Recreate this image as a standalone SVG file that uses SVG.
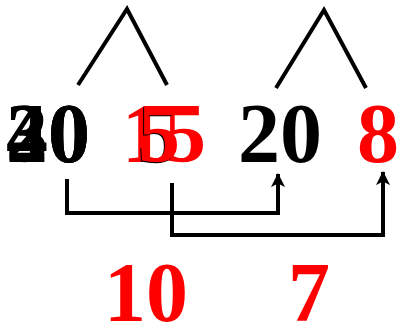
<svg xmlns="http://www.w3.org/2000/svg" width="399" height="325" viewBox="0 0 399 325">
<style>
.t{font-family:"Liberation Serif","Times New Roman",serif;font-weight:bold;font-size:84px}
.k{fill:#000}
.r{fill:#ff0000}
.ln{fill:none;stroke:#000;stroke-width:4}
</style>
<defs>
<marker id="ah" markerWidth="15" markerHeight="16" viewBox="0 0 16 16" refX="14" refY="8" orient="auto" markerUnits="userSpaceOnUse">
<path d="M0,0.5 L15,8 L0,15.5 L4,8 Z" fill="#000"/>
</marker>
</defs>
<g id="tree1"><polyline class="ln" points="78,85 127,9 167,85"/></g>
<g id="tree2"><polyline class="ln" points="276,88 324,10 366,88"/></g>
<g id="n40">
<text class="t k" x="6" y="162">20</text>
<text class="t k" x="6" y="162">30</text>
<text class="t k" x="6" y="162">40</text>
</g>
<g id="n15">
<text class="t r" x="122" y="162">15</text>
<text class="t k" x="137" y="163">5</text>
<text class="t r" x="138" y="162">5</text>
</g>
<g id="n20"><text class="t k" x="238" y="162">20</text></g>
<g id="n8"><text class="t r" x="357" y="162">8</text></g>
<g id="connectors">
<polyline class="ln" points="67,179 67,213 278,213 278,174" marker-end="url(#ah)"/>
<polyline class="ln" points="172,183 172,235 383,235 383,172" marker-end="url(#ah)"/>
</g>
<g id="n10"><text class="t r" x="104" y="321">10</text></g>
<g id="n7"><text class="t r" x="288" y="321">7</text></g>
</svg>
